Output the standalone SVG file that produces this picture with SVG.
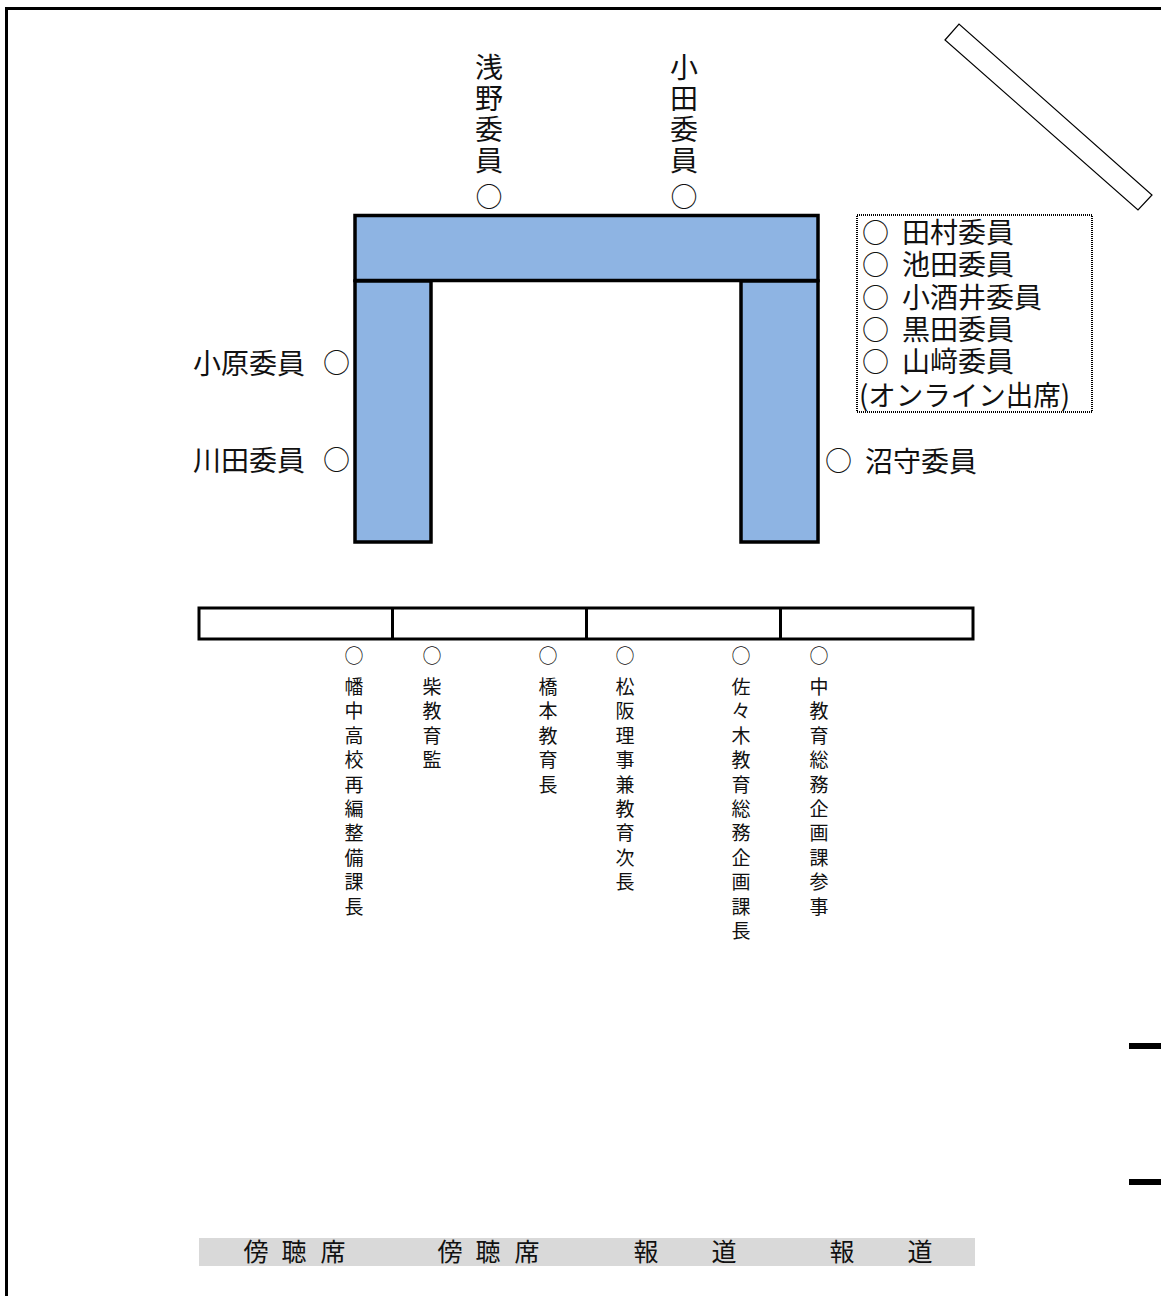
<svg xmlns="http://www.w3.org/2000/svg" width="1161" height="1296" viewBox="0 0 1161 1296">
<style>
.t{font-family:"Noto Sans CJK JP","Noto Sans CJK SC",sans-serif;fill:#111;}
.big{font-size:28px;}
.o{font-size:27px;}
.vt{font-size:28px;text-anchor:middle;}
.vs{font-size:19px;text-anchor:middle;}
.band{font-size:25px;text-anchor:middle;}
.desk{fill:#8EB4E3;stroke:#000;stroke-width:3.5;}
.tbl{fill:#fff;stroke:#000;stroke-width:3;}
</style>
<rect x="0" y="0" width="1161" height="1296" fill="#fff"/>
<g id="frame">
<line x1="5" y1="8.5" x2="1161" y2="8.5" stroke="#000" stroke-width="3"/>
<line x1="6.5" y1="7" x2="6.5" y2="1296" stroke="#000" stroke-width="3"/>
<rect x="1129" y="1043" width="32" height="6" fill="#000"/>
<rect x="1129" y="1179" width="32" height="6" fill="#000"/>
</g>
<g id="screen">
<polygon points="945,40 959,24 1152,195 1138,210" fill="#fff" stroke="#000" stroke-width="1.2"/>
</g>
<g id="desk">
<rect class="desk" x="355" y="215.5" width="463" height="65"/>
<rect class="desk" x="355" y="281" width="76" height="261"/>
<rect class="desk" x="741" y="281" width="77" height="261"/>
</g>
<g id="online-box">
<rect x="857" y="215" width="235" height="197" fill="none" stroke="#000" stroke-width="2" stroke-dasharray="1,1"/>
<text class="t big" x="862" y="243"><tspan class="o">○ </tspan><tspan x="902">田村委員</tspan></text>
<text class="t big" x="862" y="275"><tspan class="o">○ </tspan><tspan x="902">池田委員</tspan></text>
<text class="t big" x="862" y="308"><tspan class="o">○ </tspan><tspan x="902">小酒井委員</tspan></text>
<text class="t big" x="862" y="340"><tspan class="o">○ </tspan><tspan x="902">黒田委員</tspan></text>
<text class="t big" x="862" y="372"><tspan class="o">○ </tspan><tspan x="902">山﨑委員</tspan></text>
<text class="t big" x="859" y="406" textLength="211" lengthAdjust="spacingAndGlyphs">(オンライン出席)</text>
</g>
<g id="asano">
<text class="t vt"><tspan x="489" y="78">浅</tspan><tspan x="489" y="109">野</tspan><tspan x="489" y="140">委</tspan><tspan x="489" y="171">員</tspan><tspan x="489" y="207" font-size="27">○</tspan></text>
</g>
<g id="oda">
<text class="t vt"><tspan x="684" y="78">小</tspan><tspan x="684" y="109">田</tspan><tspan x="684" y="140">委</tspan><tspan x="684" y="171">員</tspan><tspan x="684" y="207" font-size="27">○</tspan></text>
</g>
<g id="ohara"><text class="t big" x="193" y="374">小原委員 <tspan class="o" x="323" y="373">○</tspan></text></g>
<g id="kawada"><text class="t big" x="193" y="471">川田委員 <tspan class="o" x="323" y="470">○</tspan></text></g>
<g id="numamori"><text class="t big" x="825" y="471"><tspan class="o">○ </tspan><tspan x="865" y="472">沼守委員</tspan></text></g>
<g id="staff-table">
<rect class="tbl" x="199" y="608" width="774" height="31"/>
<line x1="392.5" y1="608" x2="392.5" y2="639" stroke="#000" stroke-width="3"/>
<line x1="586.5" y1="608" x2="586.5" y2="639" stroke="#000" stroke-width="3"/>
<line x1="780.5" y1="608" x2="780.5" y2="639" stroke="#000" stroke-width="3"/>
</g>
<g id="staff1"><text class="t vs"><tspan x="354" y="663">○</tspan><tspan x="354" y="694">幡</tspan><tspan x="354" y="718">中</tspan><tspan x="354" y="743">高</tspan><tspan x="354" y="767">校</tspan><tspan x="354" y="792">再</tspan><tspan x="354" y="816">編</tspan><tspan x="354" y="840">整</tspan><tspan x="354" y="865">備</tspan><tspan x="354" y="889">課</tspan><tspan x="354" y="914">長</tspan></text></g>
<g id="staff2"><text class="t vs"><tspan x="432" y="663">○</tspan><tspan x="432" y="694">柴</tspan><tspan x="432" y="718">教</tspan><tspan x="432" y="743">育</tspan><tspan x="432" y="767">監</tspan></text></g>
<g id="staff3"><text class="t vs"><tspan x="548" y="663">○</tspan><tspan x="548" y="694">橋</tspan><tspan x="548" y="718">本</tspan><tspan x="548" y="743">教</tspan><tspan x="548" y="767">育</tspan><tspan x="548" y="792">長</tspan></text></g>
<g id="staff4"><text class="t vs"><tspan x="625" y="663">○</tspan><tspan x="625" y="694">松</tspan><tspan x="625" y="718">阪</tspan><tspan x="625" y="743">理</tspan><tspan x="625" y="767">事</tspan><tspan x="625" y="792">兼</tspan><tspan x="625" y="816">教</tspan><tspan x="625" y="840">育</tspan><tspan x="625" y="865">次</tspan><tspan x="625" y="889">長</tspan></text></g>
<g id="staff5"><text class="t vs"><tspan x="741" y="663">○</tspan><tspan x="741" y="694">佐</tspan><tspan x="741" y="718">々</tspan><tspan x="741" y="743">木</tspan><tspan x="741" y="767">教</tspan><tspan x="741" y="792">育</tspan><tspan x="741" y="816">総</tspan><tspan x="741" y="840">務</tspan><tspan x="741" y="865">企</tspan><tspan x="741" y="889">画</tspan><tspan x="741" y="914">課</tspan><tspan x="741" y="938">長</tspan></text></g>
<g id="staff6"><text class="t vs"><tspan x="819" y="663">○</tspan><tspan x="819" y="694">中</tspan><tspan x="819" y="718">教</tspan><tspan x="819" y="743">育</tspan><tspan x="819" y="767">総</tspan><tspan x="819" y="792">務</tspan><tspan x="819" y="816">企</tspan><tspan x="819" y="840">画</tspan><tspan x="819" y="865">課</tspan><tspan x="819" y="889">参</tspan><tspan x="819" y="914">事</tspan></text></g>
<g id="gallery">
<rect x="199" y="1238" width="776" height="28" fill="#D9D9D9"/>
<text class="t band"><tspan x="256" y="1261">傍</tspan><tspan x="294" y="1261">聴</tspan><tspan x="333" y="1261">席</tspan></text>
<text class="t band"><tspan x="450" y="1261">傍</tspan><tspan x="488" y="1261">聴</tspan><tspan x="527" y="1261">席</tspan></text>
<text class="t band"><tspan x="646" y="1261">報</tspan><tspan x="724" y="1261">道</tspan></text>
<text class="t band"><tspan x="842" y="1261">報</tspan><tspan x="920" y="1261">道</tspan></text>
</g>
<g id="connectors"></g>
</svg>
